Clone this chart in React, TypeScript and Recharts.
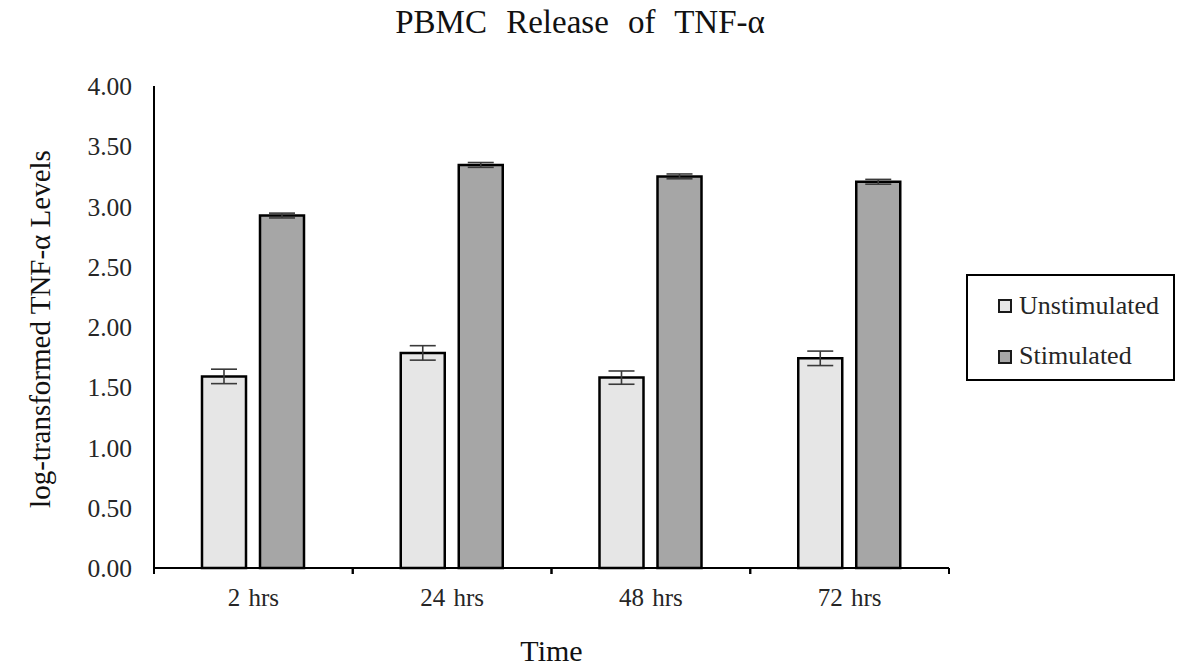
import React from 'react';
import { BarChart, Bar, XAxis, YAxis, ErrorBar, Legend } from 'recharts';

const categories = ['2 hrs', '24 hrs', '48 hrs', '72 hrs'];
const unstimulated = [1.59, 1.785, 1.58, 1.74];
const unstimulatedErr = [0.06, 0.06, 0.055, 0.06];
const stimulated = [2.925, 3.345, 3.25, 3.205];
const stimulatedErr = [0.02, 0.02, 0.02, 0.02];
const yTicks = [0, 0.5, 1, 1.5, 2, 2.5, 3, 3.5, 4];

const data = categories.map((c, i) => ({
  time: c,
  Unstimulated: unstimulated[i],
  unstimErr: unstimulatedErr[i],
  Stimulated: stimulated[i],
  stimErr: stimulatedErr[i],
}));

const FONT = '"Liberation Serif", "Times New Roman", serif';
const W = 1194;
const H = 669;
const MARGIN = { top: 86, right: 245, bottom: 41, left: 94 };
const Y_AXIS_W = 60;
const X_AXIS_H = 60;
const PLOT_LEFT = MARGIN.left + Y_AXIS_W;
const PLOT_RIGHT = W - MARGIN.right;
const BAND = (PLOT_RIGHT - PLOT_LEFT) / categories.length;
const TEXT = '#262626';

const XTick = (props: any) => {
  const { x, y, payload } = props;
  const axisY = y - 8;
  return (
    <g>
      <line x1={x - BAND / 2} x2={x - BAND / 2} y1={axisY} y2={axisY + 6} stroke="#000" strokeWidth={2} />
      <line x1={x + BAND / 2} x2={x + BAND / 2} y1={axisY} y2={axisY + 6} stroke="#000" strokeWidth={2} />
      <text x={x} y={y + 30} textAnchor="middle" fontFamily={FONT} fontSize={25} fill={TEXT} wordSpacing={2}>
        {payload.value}
      </text>
    </g>
  );
};

const LegendBox = () => (
  <svg width={210} height={108} style={{ display: 'block' }}>
    <rect x={1} y={1} width={207} height={105} fill="#fff" stroke="#000" strokeWidth={2} />
    <rect x={33} y={26} width={12} height={12} fill="#e6e6e6" stroke="#1a1a1a" strokeWidth={2} />
    <text x={53} y={40} fontFamily={FONT} fontSize={26} fill={TEXT}>Unstimulated</text>
    <rect x={33} y={77} width={12} height={12} fill="#a6a6a6" stroke="#1a1a1a" strokeWidth={2} />
    <text x={53} y={90} fontFamily={FONT} fontSize={26} fill={TEXT}>Stimulated</text>
  </svg>
);

export default function App() {
  return (
    <div style={{ position: 'absolute', left: 0, top: 0, width: W, height: H, background: '#fff' }}>
      <div
        style={{
          position: 'absolute',
          left: 0,
          top: 4,
          width: 1160,
          textAlign: 'center',
          fontFamily: FONT,
          fontSize: 33,
          wordSpacing: 11,
          color: '#111',
          lineHeight: '36px',
          whiteSpace: 'nowrap',
        }}
      >
        PBMC Release of TNF-α
      </div>
      <BarChart
        width={W}
        height={H}
        data={data}
        margin={MARGIN}
        barSize={44}
        barGap={14}
        style={{ position: 'absolute', left: 0, top: 0 }}
      >
        <XAxis
          dataKey="time"
          height={X_AXIS_H}
          axisLine={{ stroke: '#000', strokeWidth: 2 }}
          tickLine={false}
          tickSize={6}
          tickMargin={2}
          tick={<XTick />}
          interval={0}
          label={{
            content: () => (
              <text x={(PLOT_LEFT + PLOT_RIGHT) / 2} y={661} textAnchor="middle" fontFamily={FONT} fontSize={30} fill="#111">
                Time
              </text>
            ),
          }}
        />
        <YAxis
          width={Y_AXIS_W}
          domain={[0, 4]}
          ticks={yTicks}
          interval={0}
          axisLine={{ stroke: '#000', strokeWidth: 2 }}
          tickLine={false}
          tickSize={6}
          tickMargin={16}
          tickFormatter={(v: number) => v.toFixed(2)}
          tick={{ fontFamily: FONT, fontSize: 25.5, fill: TEXT }}
          label={{
            content: () => (
              <text
                x={50}
                y={329}
                transform="rotate(-90, 50, 329)"
                textAnchor="middle"
                fontFamily={FONT}
                fontSize={29}
                fill="#111"
              >
                log-transformed TNF-α Levels
              </text>
            ),
          }}
        />
        <Legend
          layout="horizontal"
          verticalAlign="middle"
          align="center"
          content={() => <LegendBox />}
          wrapperStyle={{ position: 'absolute', left: 966, top: 274, width: 210, height: 108 }}
        />
        <Bar dataKey="Unstimulated" fill="#e6e6e6" stroke="#000" strokeWidth={2.5} isAnimationActive={false}>
          <ErrorBar dataKey="unstimErr" width={13} stroke="#3a3a3a" strokeWidth={1.6} isAnimationActive={false} />
        </Bar>
        <Bar dataKey="Stimulated" fill="#a6a6a6" stroke="#000" strokeWidth={2.5} isAnimationActive={false}>
          <ErrorBar dataKey="stimErr" width={13} stroke="#3a3a3a" strokeWidth={1.6} isAnimationActive={false} />
        </Bar>
      </BarChart>
    </div>
  );
}
